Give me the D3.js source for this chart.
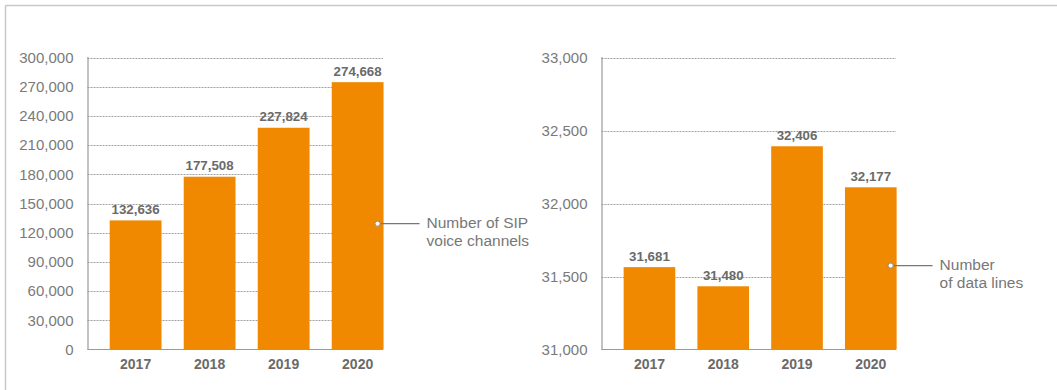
<!DOCTYPE html>
<html>
<head>
<meta charset="utf-8">
<script src="https://cdn.jsdelivr.net/npm/d3@7/dist/d3.min.js"></script>
<style>
  html, body { margin: 0; padding: 0; background: #fff; }
  svg { display: block; }
  text { font-family: "Liberation Sans", Arial, sans-serif; }
</style>
</head>
<body>
<svg id="chart" width="1057" height="390"></svg>
<script>
// ---- data ----
const years = ["2017", "2018", "2019", "2020"];
const sipValues = [132636, 177508, 227824, 274668];
const sipLabels = ["132,636", "177,508", "227,824", "274,668"];
const sipTicks = [0, 30000, 60000, 90000, 120000, 150000, 180000, 210000, 240000, 270000, 300000];
const sipTitle = ["Number of SIP", "voice channels"];

const dataLineValues = [31564, 31433, 32392, 32111]; // bar heights as drawn
const dataLineLabels = ["31,681", "31,480", "32,406", "32,177"];
const dataLineTicks = [31000, 31500, 32000, 32500, 33000];
const dataLineTitle = ["Number", "of data lines"];

const svg = d3.select("#chart");
const ORANGE = "#f08800";
const fmt = d3.format(",");

// frame
svg.append("line").attr("x1", 5.5).attr("x2", 1057).attr("y1", 5.5).attr("y2", 5.5)
  .attr("stroke", "#c8c8c8").attr("stroke-width", 1.5);
svg.append("line").attr("x1", 5.5).attr("x2", 5.5).attr("y1", 5.5).attr("y2", 390)
  .attr("stroke", "#c8c8c8").attr("stroke-width", 1.5);

function panel(opts) {
  const g = svg.append("g");
  const x0 = opts.left, x1 = opts.right;
  const y = d3.scaleLinear().domain(opts.domain).range([349.5, 57.5]);
  const x = d3.scaleBand().domain(years).range([x0, x1 + 22.75])
    .paddingInner(0.3).paddingOuter(0.3);

  // grid
  g.selectAll("line.grid").data(opts.ticks.filter(t => t !== opts.domain[0]))
    .enter().append("line")
    .attr("x1", x0).attr("x2", x1)
    .attr("y1", d => Math.round(y(d)) + 0.5).attr("y2", d => Math.round(y(d)) + 0.5)
    .attr("stroke", "#a0a0a0").attr("stroke-width", 1).attr("stroke-dasharray", "2,1");

  // bars
  g.selectAll("rect").data(opts.values).enter().append("rect")
    .attr("x", (d, i) => x(years[i]))
    .attr("width", x.bandwidth())
    .attr("y", d => y(d))
    .attr("height", d => y(opts.domain[0]) - y(d))
    .attr("fill", ORANGE);

  // axes
  const yAxis = d3.axisLeft(y).tickValues(opts.ticks).tickSize(0).tickPadding(14).tickFormat(fmt);
  const ya = g.append("g").attr("transform", `translate(${x0},0)`).call(yAxis);
  ya.select(".domain").remove();
  ya.selectAll("text").attr("fill", "#7a7a7a").attr("font-size", 15)
    .attr("font-family", "Liberation Sans, Arial, sans-serif");

  g.append("line").attr("x1", x0 + 0.5).attr("x2", x0 + 0.5).attr("y1", 57).attr("y2", 350)
    .attr("stroke", "#9a9a9a").attr("stroke-width", 1.2);
  g.append("line").attr("x1", x0).attr("x2", x1).attr("y1", 349.5).attr("y2", 349.5)
    .attr("stroke", "#9a9a9a").attr("stroke-width", 1.2);

  const xAxis = d3.axisBottom(x).tickSize(0).tickPadding(10);
  const xa = g.append("g").attr("transform", "translate(0,349.5)").call(xAxis);
  xa.select(".domain").remove();
  xa.selectAll("text").attr("fill", "#6a6a6a").attr("font-size", 14).attr("font-weight", "bold")
    .attr("font-family", "Liberation Sans, Arial, sans-serif");

  // value labels
  g.selectAll("text.val").data(opts.values).enter().append("text")
    .attr("class", "val")
    .attr("x", (d, i) => x(years[i]) + x.bandwidth() / 2)
    .attr("y", d => y(d) - 6.5)
    .attr("text-anchor", "middle")
    .attr("font-size", 13.3).attr("font-weight", "bold").attr("fill", "#6a6a6a")
    .text((d, i) => opts.labels[i]);

  // annotation
  const last = years[years.length - 1];
  const dx = x(last) + x.bandwidth() - 6;
  const dy = y(opts.annotValue);
  g.append("line").attr("x1", dx + 3).attr("x2", dx + opts.lineLen).attr("y1", dy).attr("y2", dy)
    .attr("stroke", "#777").attr("stroke-width", 1.2);
  g.append("circle").attr("cx", dx).attr("cy", dy).attr("r", 2.6)
    .attr("fill", "#fff").attr("stroke", "#888").attr("stroke-width", 1);
  const t = g.append("text").attr("x", dx + opts.lineLen + 7).attr("y", dy + 4.5)
    .attr("font-size", 15.5).attr("fill", "#777");
  opts.title.forEach((line, i) => {
    t.append("tspan").attr("x", dx + opts.lineLen + 7).attr("dy", i === 0 ? 0 : 17.5).text(line);
  });
}

panel({ left: 87.5, right: 383, domain: [0, 300000], ticks: sipTicks,
  values: sipValues, labels: sipLabels, title: sipTitle, annotValue: 129300, lineLen: 42 });
panel({ left: 601.5, right: 896, domain: [31000, 33000], ticks: dataLineTicks,
  values: dataLineValues, labels: dataLineLabels, title: dataLineTitle, annotValue: 31575, lineLen: 42 });
</script>
</body>
</html>
